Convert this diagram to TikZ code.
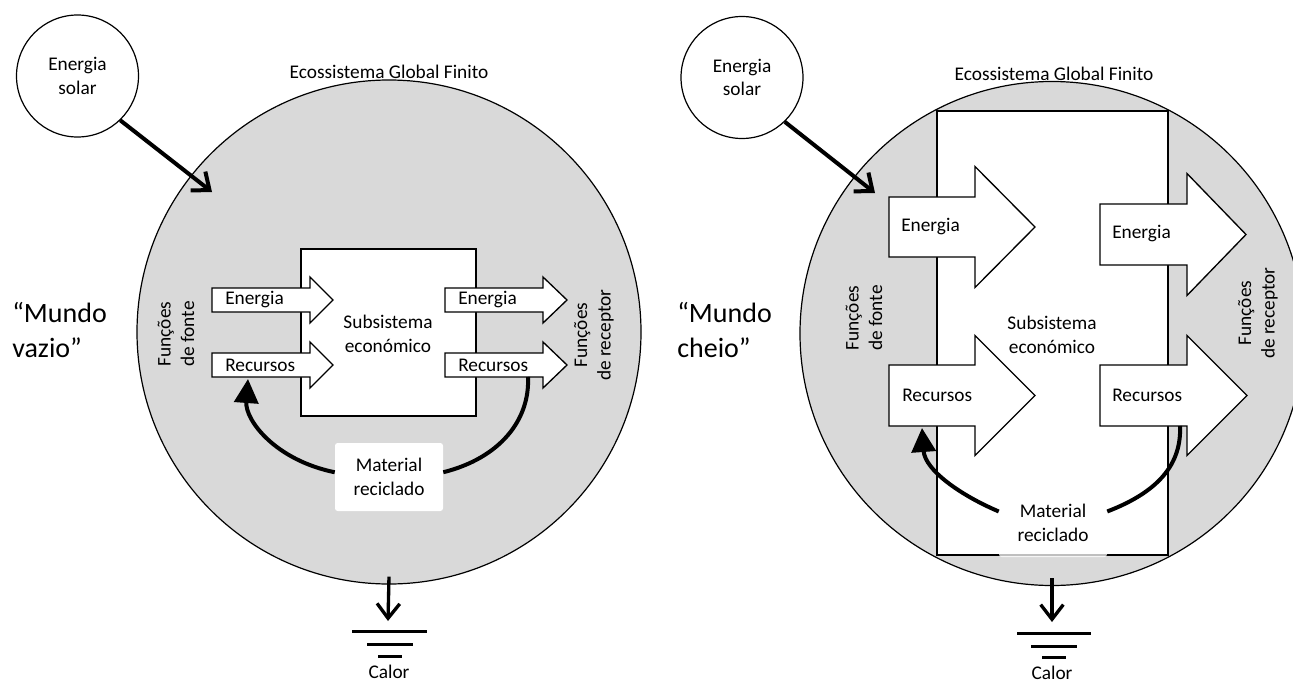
\documentclass[tikz,border=0pt]{standalone}
\usepackage{fontspec}
\setmainfont{Carlito}
\usetikzlibrary{arrows.meta, positioning}
\definecolor{ecofill}{RGB}{217, 217, 217}
% block arrow: tail x, centre y, head start x, tip x, body half, head half
\newcommand{\blockarrow}[6]{%
	\draw[flowblock] (#1,{#2-#5}) -- (#3,{#2-#5}) -- (#3,{#2-#6}) -- (#4,#2) -- (#3,{#2+#6}) -- (#3,{#2+#5}) -- (#1,{#2+#5}) -- cycle;}

\begin{document}
\begin{tikzpicture}[
	x=0.75pt, y=-0.75pt,
	font=\fontsize{14.5}{17.5}\selectfont,
	% Styles for the shapes
	sun/.style={circle, draw=black, line width=0.9pt, fill=white, minimum size=91.5pt, inner sep=0pt, align=center},
	eco/.style={circle, draw=black, line width=0.9pt, fill=ecofill, minimum size=378pt, inner sep=0pt},
	subbox/.style={draw=black, line width=1.2pt, fill=white},
	flowblock/.style={draw=black, line width=1pt, fill=white, line join=miter},
	matbox/.style={fill=white, rounded corners=2pt, align=center, minimum width=81pt, minimum height=51pt, inner sep=0pt},
	% Styles for text and connectors
	labeltext/.style={inner sep=0pt, align=center},
	sidetext/.style={rotate=90, align=center, inner sep=0pt},
	worldtext/.style={font=\fontsize{21}{26}\selectfont, align=left, anchor=west, inner sep=0pt},
	flowarrow/.style={line width=3pt, -{Straight Barb[length=11pt, width=18pt]}},
	heatarrow/.style={line width=2.5pt, -{Straight Barb[length=11pt, width=17pt]}},
	recycle/.style={line width=3pt},
	recyclearrow/.style={line width=3pt, -{Triangle[length=18pt, width=18pt]}},
	ground/.style={line width=2.25pt}
	]
	\useasboundingbox (0,0) rectangle (1293,682);
	
	% ==========================================
	% EMPTY WORLD (LEFT)
	% ==========================================
	\node[eco] (ecoL) at (389,332) {};
	\node[labeltext] (ecoLabL) at (389,72) {Ecossistema Global Finito};
	\draw[subbox] (301,249) rectangle (476,416);
	\node[labeltext] (subL) at (388,334) {Subsistema\\económico};
	
	% Inflows and outflows
	\blockarrow{212}{300}{310}{333}{12}{23}
	\blockarrow{212}{365}{310}{333}{12}{23}
	\blockarrow{445}{300}{543}{567}{12}{23}
	\blockarrow{445}{365}{543}{567}{12}{23}
	\node[labeltext, anchor=west] (enInL) at (225,300) {Energia};
	\node[labeltext, anchor=west] (recInL) at (225,365) {Recursos};
	\node[labeltext, anchor=west] (enOutL) at (458,300) {Energia};
	\node[labeltext, anchor=west] (recOutL) at (458,365) {Recursos};
	\node[sidetext] (srcL) at (176,334) {Funções\\de fonte};
	\node[sidetext] (sinkL) at (594,335) {Funções\\de receptor};
	
	% Sun
	\node[sun] (sunL) at (77.5,76) {Energia\\solar};
	\coordinate (sunTipL) at (212,192);
	\draw[flowarrow] (sunL.-46) -- (sunTipL);
	
	% Recycling loop
	\node[matbox] (matL) at (389,477) {Material\\reciclado};
	\coordinate (recTipL) at (248,379);
	\coordinate (recEndL) at (528,377);
	\draw[recyclearrow] (matL.175) .. controls (275,460) and (245,420) .. (recTipL);
	\draw[recycle] (matL.5) .. controls (500,458) and (530,420) .. (recEndL);
	
	% Heat sink
	\coordinate (heatL) at (388,621);
	\draw[heatarrow] ([yshift=6pt]ecoL.south) -- (heatL);
	\draw[ground] (352,631) -- (427,631);
	\draw[ground] (367,644) -- (413,644);
	\draw[ground] (378,656) -- (402,656);
	\node[labeltext] (calorL) at (389,672) {Calor};
	
	\node[worldtext] (worldL) at (12,330) {“Mundo\\vazio”};
	
	% ==========================================
	% FULL WORLD (RIGHT)
	% ==========================================
	\node[eco] (ecoR) at (1052,333.5) {};
	\node[labeltext] (ecoLabR) at (1054,74) {Ecossistema Global Finito};
	\draw[subbox] (937,111) rectangle (1168,555);
	\node[labeltext] (subR) at (1052,335) {Subsistema\\económico};
	
	% Inflows and outflows
	\blockarrow{889}{227}{975}{1035}{30}{60.5}
	\blockarrow{889}{395.5}{975}{1035}{30.5}{60}
	\blockarrow{1100}{234.5}{1187}{1246}{30.5}{61}
	\blockarrow{1100}{395.5}{1187}{1247}{30.5}{60}
	\node[labeltext, anchor=west] (enInR) at (901,227) {Energia};
	\node[labeltext, anchor=west] (recInR) at (902,395) {Recursos};
	\node[labeltext, anchor=west] (enOutR) at (1112,234) {Energia};
	\node[labeltext, anchor=west] (recOutR) at (1112,395) {Recursos};
	\node[sidetext] (srcR) at (864,318) {Funções\\de fonte};
	\node[sidetext] (sinkR) at (1258,313) {Funções\\de receptor};
	
	% Sun
	\node[sun] (sunR) at (742,77.5) {Energia\\solar};
	\coordinate (sunTipR) at (875,193);
	\draw[flowarrow] (sunR.-46) -- (sunTipR);
	
	% Recycling loop
	\node[matbox, fill opacity=0.75, text opacity=1] (matR) at (1053,523) {Material\\reciclado};
	\coordinate (recTipR) at (922,428);
	\coordinate (recEndR) at (1180,426);
	\draw[recyclearrow] (matR.168) .. controls (960,495) and (925,470) .. (recTipR);
	\draw[recycle] (matR.12) .. controls (1150,495) and (1182,470) .. (recEndR);
	
	% Heat sink
	\coordinate (heatR) at (1052,622);
	\draw[heatarrow] ([yshift=6pt]ecoR.south) -- (heatR);
	\draw[ground] (1017,633) -- (1091,633);
	\draw[ground] (1031,646) -- (1077,646);
	\draw[ground] (1042,657) -- (1066,657);
	\node[labeltext] (calorR) at (1052,673) {Calor};
	
	\node[worldtext] (worldR) at (677,330) {“Mundo\\cheio”};
	
\end{tikzpicture}
\end{document}
